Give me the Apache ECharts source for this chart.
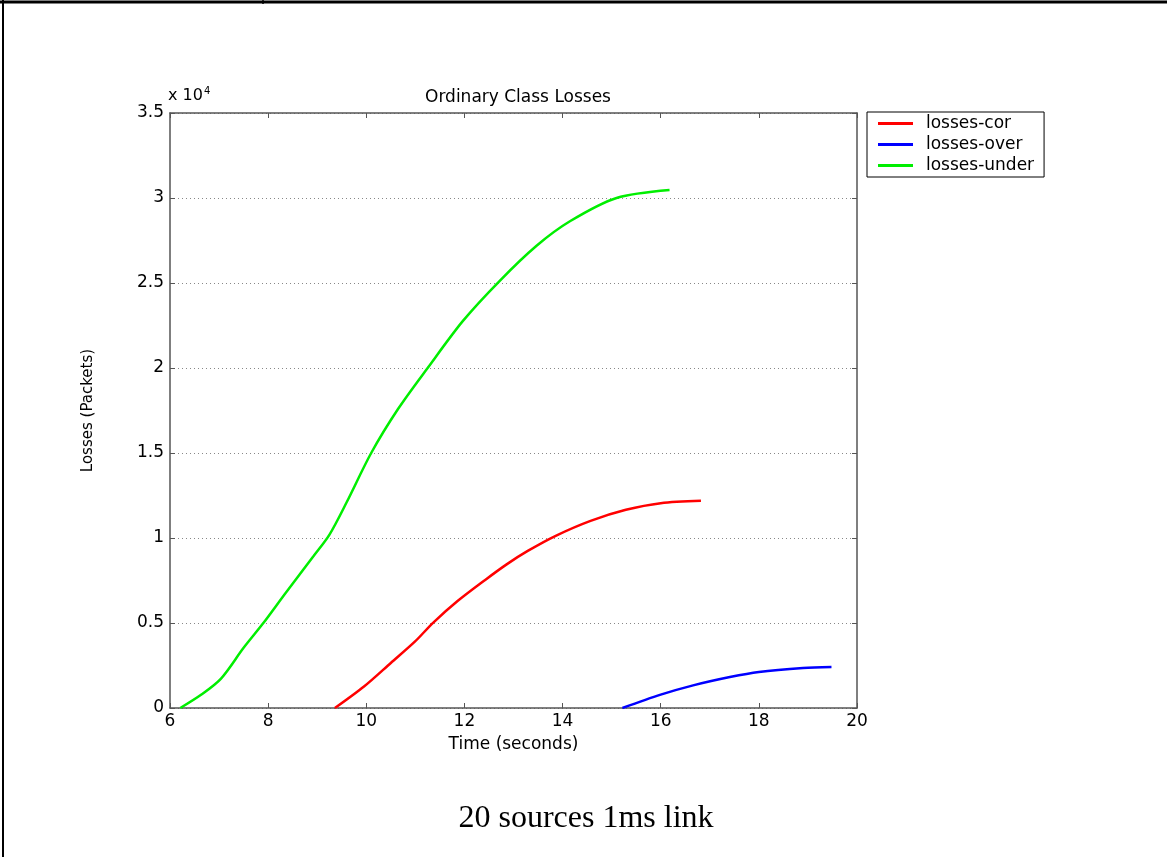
<!DOCTYPE html>
<html>
<head>
<meta charset="utf-8">
<script src="https://cdn.jsdelivr.net/npm/echarts@6/dist/echarts.min.js"></script>
<style>
  html, body { margin: 0; padding: 0; background: #fff; }
  #main { width: 1167px; height: 857px; }
</style>
</head>
<body>
<div id="main"></div>
<script>
// values
var underX = [6.21, 6.64, 7.04, 7.5, 7.89, 8.36, 8.93, 9.25, 9.6, 10.1, 10.65, 11.25, 11.97, 12.72, 13.47, 14.15, 15.1, 16.18];
var underY = [0, 790, 1730, 3540, 4950, 6780, 8950, 10200, 12100, 15000, 17600, 20000, 22770, 25130, 27190, 28630, 30000, 30470];
var corX = [9.36, 9.96, 10.5, 11.0, 11.36, 11.86, 12.43, 12.86, 13.29, 13.86, 14.57, 15.29, 16.0, 16.82];
var corY = [0, 1280, 2650, 3930, 5010, 6290, 7550, 8450, 9240, 10130, 11010, 11660, 12050, 12190];
var overX = [15.22, 16.0, 16.66, 17.41, 18.0, 18.9, 19.48];
var overY = [0, 784, 1330, 1820, 2120, 2350, 2410];
var names = ['losses-cor', 'losses-over', 'losses-under'];

function pairs(xs, ys) {
  var out = [];
  for (var i = 0; i < xs.length; i++) out.push([xs[i], ys[i]]);
  return out;
}

var font = 'DejaVu Sans, Arial, sans-serif';
var axisGray = '#555';

var myChart = echarts.init(document.getElementById('main'));
var option = {
  backgroundColor: '#fff',
  animation: false,
  title: {
    text: 'Ordinary Class Losses',
    left: 513,
    top: 84,
    textAlign: 'center',
    textStyle: { fontFamily: font, fontSize: 17, fontWeight: 'normal', color: '#000' }
  },
  legend: {
    orient: 'vertical',
    left: 867,
    top: 112,
    data: names,
    icon: 'rect',
    itemWidth: 35,
    itemHeight: 3,
    itemGap: 4,
    padding: [3, 10, 3, 11],
    borderColor: '#000',
    borderWidth: 1,
    textStyle: { fontFamily: font, fontSize: 17, color: '#000', padding: [0, 0, 0, 8] }
  },
  grid: { left: 170, top: 113, right: 310, bottom: 149 },
  xAxis: [{
    type: 'value', min: 6, max: 20, interval: 2,
    name: 'Time (seconds)', nameLocation: 'middle', nameGap: 28,
    nameTextStyle: { fontFamily: font, fontSize: 17, color: '#000' },
    axisLine: { onZero: false, lineStyle: { color: axisGray, width: 1.5 } },
    axisTick: { inside: true, length: 5, lineStyle: { color: axisGray } },
    axisLabel: { fontFamily: font, fontSize: 17, color: '#000', margin: 5 },
    splitLine: { show: false }
  }, {
    type: 'value', min: 6, max: 20, interval: 2, position: 'top',
    axisLine: { show: true, onZero: false, lineStyle: { color: axisGray, width: 1.5 } },
    axisTick: { show: true, inside: true, length: 5, lineStyle: { color: axisGray } },
    axisLabel: { show: false },
    splitLine: { show: false }
  }],
  yAxis: [{
    type: 'value', min: 0, max: 35000, interval: 5000,
    name: 'Losses (Packets)', nameLocation: 'middle', nameGap: 74,
    nameTextStyle: { fontFamily: font, fontSize: 15, color: '#000' },
    axisLine: { show: true, onZero: false, lineStyle: { color: axisGray, width: 1.5 } },
    axisTick: { show: true, inside: true, length: 5, lineStyle: { color: axisGray } },
    axisLabel: {
      fontFamily: font, fontSize: 17, color: '#000', margin: 6,
      formatter: function (v) { return String(v / 10000); }
    },
    splitLine: { show: true, lineStyle: { color: '#888', type: [1, 3], width: 1 } }
  }, {
    type: 'value', min: 0, max: 35000, interval: 5000, position: 'right',
    axisLine: { show: true, onZero: false, lineStyle: { color: axisGray, width: 1.5 } },
    axisTick: { show: true, inside: true, length: 5, lineStyle: { color: axisGray } },
    axisLabel: { show: false },
    splitLine: { show: false }
  }],
  series: [{
    name: 'losses-cor', type: 'line', data: pairs(corX, corY),
    symbol: 'none', smooth: 0.3, color: '#ff0000', lineStyle: { width: 2.5 }
  }, {
    name: 'losses-over', type: 'line', data: pairs(overX, overY),
    symbol: 'none', smooth: 0.3, color: '#0000ff', lineStyle: { width: 2.5 }
  }, {
    name: 'losses-under', type: 'line', data: pairs(underX, underY),
    symbol: 'none', smooth: 0.3, color: '#00ee00', lineStyle: { width: 2.5 }
  }],
  graphic: [
    // page frame
    { type: 'line', shape: { x1: 0, y1: 2, x2: 1167, y2: 2 }, style: { stroke: '#000', lineWidth: 3 } },
    { type: 'line', shape: { x1: 3, y1: 0, x2: 3, y2: 857 }, style: { stroke: '#000', lineWidth: 2 } },
    { type: 'line', shape: { x1: 263, y1: 0, x2: 263, y2: 4 }, style: { stroke: '#000', lineWidth: 1.5 } },
    // exponent label
    {
      type: 'text', x: 168, y: 86,
      style: {
        text: '{b|x 10}{s|4}',
        rich: {
          b: { fontFamily: font, fontSize: 16, fill: '#000', verticalAlign: 'bottom' },
          s: { fontFamily: font, fontSize: 10, fill: '#000', verticalAlign: 'top', padding: [0, 0, 8, 1] }
        }
      }
    },
    // caption below the figure
    {
      type: 'text', x: 586, y: 803,
      style: { text: '20 sources 1ms link', fontFamily: 'Liberation Serif, Times New Roman, serif', fontSize: 32, fill: '#000', align: 'center', textAlign: 'center' }
    }
  ]
};
myChart.setOption(option);
</script>
</body>
</html>
